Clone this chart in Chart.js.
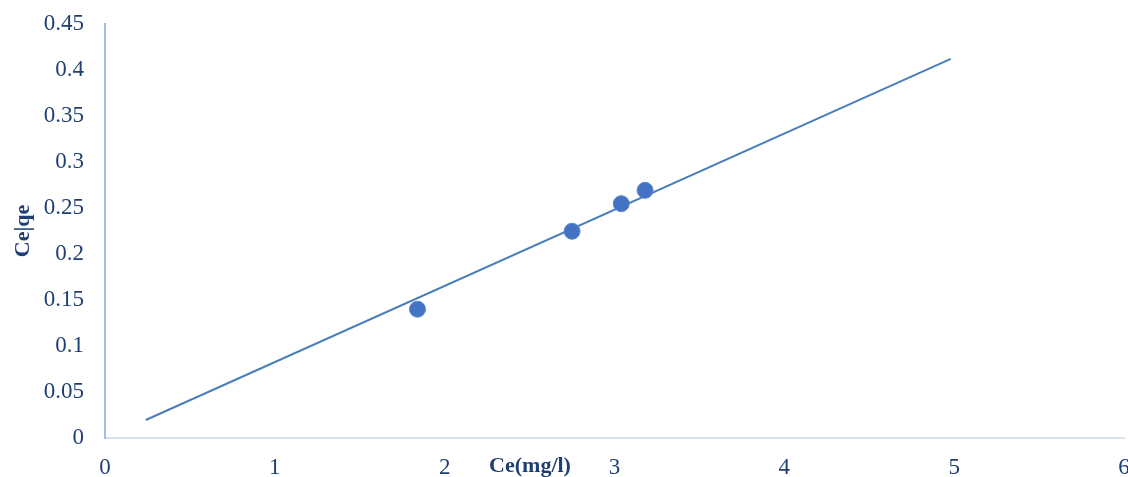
<!DOCTYPE html>
<html>
<head>
<meta charset="utf-8">
<script src="https://cdn.jsdelivr.net/npm/chart.js@4.4.1/dist/chart.umd.min.js"></script>
<style>
  html, body { margin: 0; padding: 0; background: #fff; }
  #wrap { width: 1128px; height: 477px; position: relative; }
</style>
</head>
<body>
<div id="wrap"><canvas id="myChart"></canvas></div>
<script>
// measured points (Ce vs Ce/qe)
var ceValues = [1.84, 2.75, 3.04, 3.18];
var ceQeValues = [0.140, 0.2247, 0.2547, 0.2692];

// linear trendline end points
var trendX = [0.24, 4.98];
var trendY = [0.0196, 0.412];

var yTicks = [0, 0.05, 0.1, 0.15, 0.2, 0.25, 0.3, 0.35, 0.4, 0.45];
var xTicks = [0, 1, 2, 3, 4, 5, 6];

var textColor = "#1f3f73";
var fontFace = "'Liberation Serif', 'Times New Roman', serif";

var scatterPts = ceValues.map((x, i) => ({ x: x, y: ceQeValues[i] }));
var trendPts = trendX.map((x, i) => ({ x: x, y: trendY[i] }));

// x title sits on the tick label row, like the original
const xTitlePlugin = {
  id: "xTitle",
  afterDraw(chart) {
    const c = chart.ctx;
    c.save();
    c.font = "bold 22px " + fontFace;
    c.fillStyle = textColor;
    c.textAlign = "center";
    c.textBaseline = "middle";
    c.fillText("Ce(mg/l)", 530, 466);
    c.restore();
  }
};

const ctx = document.getElementById("myChart");
new Chart(ctx, {
  type: "scatter",
  data: {
    datasets: [{
      type: "line",
      data: trendPts,
      borderColor: "#4a7ebb",
      borderWidth: 2,
      pointRadius: 0,
      fill: false,
      order: 2,
    }, {
      data: scatterPts,
      backgroundColor: "#4472c4",
      borderColor: "#5b86cc",
      borderWidth: 1,
      pointRadius: 8,
      order: 1,
    }],
  },
  options: {
    responsive: true,
    maintainAspectRatio: false,
    animation: false,
    layout: { autoPadding: false, padding: { top: 24, right: 4, left: 0, bottom: 0 } },
    plugins: {
      legend: { display: false },
      tooltip: { enabled: false },
    },
    scales: {
      x: {
        type: "linear",
        min: 0,
        max: 6,
        afterBuildTicks: (s) => { s.ticks = xTicks.map(v => ({ value: v })); },
        afterFit: (s) => { s.height = 39; s.paddingLeft = 0; s.paddingRight = 0; },
        grid: { display: false, drawTicks: false },
        border: { display: true, color: "#d5e0f1", width: 2 },
        ticks: {
          color: textColor,
          font: { family: fontFace, size: 23 },
          padding: 16,
          maxRotation: 0,
        },
      },
      y: {
        min: 0,
        max: 0.45,
        afterBuildTicks: (s) => { s.ticks = yTicks.map(v => ({ value: v })); },
        afterFit: (s) => { s.width = 105; s.paddingTop = 0; s.paddingBottom = 0; },
        grid: { display: false, drawTicks: false },
        border: { display: true, color: "#9dc0ea", width: 2 },
        ticks: {
          color: textColor,
          font: { family: fontFace, size: 23 },
          padding: 21,
          callback: (v) => String(+v.toFixed(2)),
        },
        title: {
          display: true,
          text: "Ce|qe",
          color: textColor,
          font: { family: fontFace, size: 22, weight: "bold" },
          padding: { top: 10, bottom: 0 },
        },
      },
    },
  },
  plugins: [xTitlePlugin],
});
</script>
</body>
</html>
